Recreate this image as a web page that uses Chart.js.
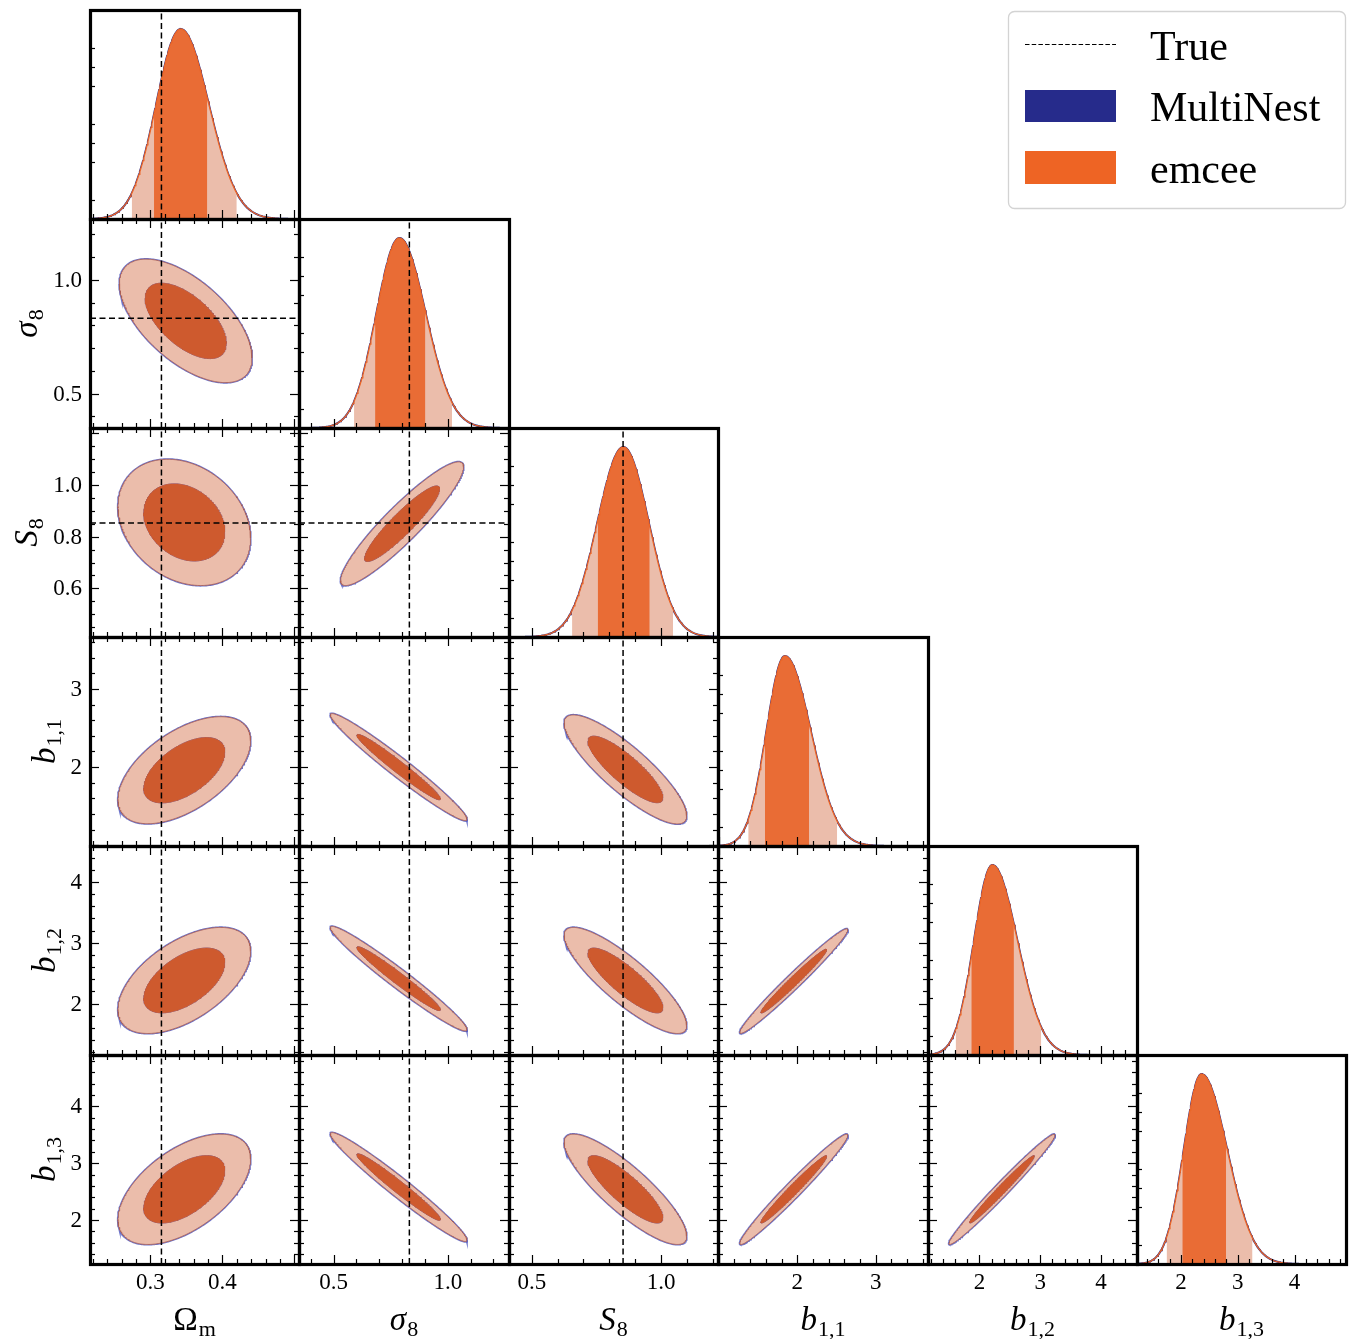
<!DOCTYPE html>
<html>
<head>
<meta charset="utf-8">
<title>Posterior comparison: MultiNest vs emcee</title>
<script src="https://cdn.jsdelivr.net/npm/chart.js@4.4.1/dist/chart.umd.min.js"></script>
<style>
  html, body { margin: 0; padding: 0; background: #fff; }
  #page { position: relative; width: 1351px; height: 1339px; overflow: hidden; background: #fff; }
  #page canvas { position: absolute; }
</style>
</head>
<body>
<div id="page"></div>
<script>
// ---------------- parameters ----------------
const titleSymbol   = ['Ω', 'σ', 'S', 'b', 'b', 'b'];
const titleItalic   = [false, true, true, true, true, true];
const titleSubscript = ['m', '8', '8', '1,1', '1,2', '1,3'];
const axisMin = [0.216, 0.349, 0.412, 0.990, 1.155, 1.225];
const axisMax = [0.5065, 1.268, 1.220, 3.665, 4.590, 4.905];
const trueValues = [0.3153, 0.832, 0.853, null, null, null];

// tick labels and tick spacing per parameter
const tickLabelsX = [['0.3', '0.4'], ['0.5', '1.0'], ['0.5', '1.0'], ['2', '3'], ['2', '3', '4'], ['2', '3', '4']];
const tickLabelsY = [[], ['0.5', '1.0'], ['0.6', '0.8', '1.0'], ['2', '3'], ['2', '3', '4'], ['2', '3', '4']];
const majorStepX = [0.1, 0.5, 0.5, 1, 1, 1];
const minorStepX = [0.02, 0.1, 0.1, 0.2, 0.2, 0.2];
const majorStepY = [0.1, 0.5, 0.2, 1, 1, 1];
const minorStepY = [0.02, 0.1, 0.05, 0.2, 0.2, 0.2];
const densityTicks = [0.1, 0.3, 0.4, 0.5, 0.7, 0.8, 0.9];

// 1D marginals: peak, widths either side, credible interval bounds
const peak       = [0.342, 0.788, 0.854, 1.842, 2.212, 2.360];
const widthLeft  = [0.034, 0.100, 0.100, 0.235, 0.300, 0.310];
const widthRight = [0.039, 0.115, 0.098, 0.330, 0.410, 0.450];
const lower95 = [0.274, 0.590, 0.656, 1.375, 1.609, 1.746];
const lower68 = [0.305, 0.682, 0.755, 1.588, 1.867, 2.023];
const upper68 = [0.379, 0.902, 0.956, 2.151, 2.567, 2.793];
const upper95 = [0.420, 1.019, 1.046, 2.508, 3.016, 3.259];

// 2D marginals, one entry per lower-triangle panel (row = y parameter, col = x parameter)
const pairRow = [1, 2, 2, 3, 3, 3, 4, 4, 4, 4, 5, 5, 5, 5, 5];
const pairCol = [0, 0, 1, 0, 1, 2, 0, 1, 2, 3, 0, 1, 2, 3, 4];
const pairCenterX = [0.349, 0.347, 0.800, 0.347, 0.785, 0.862, 0.347, 0.785, 0.862, 1.955, 0.347, 0.785, 0.862, 1.955, 2.370];
const pairCenterY = [0.820, 0.855, 0.850, 1.960, 2.000, 1.970, 2.380, 2.410, 2.380, 2.370, 2.540, 2.580, 2.540, 2.540, 2.540];
const pairSigmaX  = [0.037, 0.037, 0.108, 0.037, 0.120, 0.095, 0.037, 0.120, 0.095, 0.276, 0.037, 0.120, 0.095, 0.276, 0.350];
const pairSigmaY  = [0.109, 0.098, 0.096, 0.275, 0.275, 0.280, 0.350, 0.345, 0.350, 0.345, 0.390, 0.385, 0.390, 0.390, 0.390];
const pairRho     = [-0.60, -0.25, 0.92, 0.55, -0.975, -0.85, 0.55, -0.975, -0.85, 0.982, 0.55, -0.975, -0.85, 0.98, 0.985];

// contour radii (in standard deviations) for the 68% and 95% regions
const R68 = 1.52, R95 = 2.49;

// ---------------- layout & style ----------------
const X_EDGES = [90, 299, 509, 718, 928, 1137, 1346];
const Y_EDGES = [10, 219, 428, 637, 846, 1055, 1264];
const PAGE_W = 1351, PAGE_H = 1339, PAD = 6;
const SERIF = '"Liberation Serif", "Times New Roman", serif';
const TICK_FONT = '23px ' + SERIF;
const TITLE_SIZE = 33;

const COLORS = {
  emceeLine: '#EC6526',
  emcee68: '#E96C35',
  emcee95: '#EBBDAB',
  emceeInner: '#CE5A2E',
  emceeEdge: 'rgba(170, 95, 85, 0.85)',
  multinest: '#262B8B',
  multinestEdge: 'rgba(70, 80, 190, 0.8)',
  truth: '#000000'
};

// ---------------- helpers ----------------
function density1D(i, x) {
  const s = x < peak[i] ? widthLeft[i] : widthRight[i];
  const z = (x - peak[i]) / s;
  return Math.exp(-0.5 * z * z);
}
function curvePoints(i, lo, hi, n) {
  const pts = [];
  for (let k = 0; k <= n; k++) {
    const x = lo + (hi - lo) * k / n;
    pts.push({ x, y: density1D(i, x) });
  }
  return pts;
}
// one half of a confidence ellipse, ordered by increasing x
function contourHalf(p, radius, upper) {
  const pts = [];
  const n = 140;
  const cx = pairCenterX[p], cy = pairCenterY[p];
  const sx = pairSigmaX[p], sy = pairSigmaY[p], rho = pairRho[p];
  const q = Math.sqrt(1 - rho * rho);
  for (let k = 0; k <= n; k++) {
    const th = upper ? Math.PI * (1 - k / n) : Math.PI * (1 + k / n);
    const c = Math.cos(th), s = Math.sin(th);
    pts.push({ x: cx + sx * radius * c, y: cy + sy * radius * (rho * c + q * s) });
  }
  return pts;
}
function tickList(min, max, minor, major) {
  const out = [];
  const start = Math.ceil(min / minor - 1e-9);
  for (let k = start; k * minor <= max + 1e-9; k++) {
    const v = k * minor;
    const r = v / major;
    out.push({ v, major: Math.abs(r - Math.round(r)) < 1e-6 });
  }
  return out;
}
function lineDataset(data, color, width, order, extra) {
  return Object.assign({
    data, borderColor: color, borderWidth: width, pointRadius: 0,
    fill: false, order, tension: 0
  }, extra || {});
}
function truthVertical(v, yMin, yMax) {
  return lineDataset([{ x: v, y: yMin }, { x: v, y: yMax }], COLORS.truth, 1.5, 0, { borderDash: [6, 3.5] });
}
function truthHorizontal(v, xMin, xMax) {
  return lineDataset([{ x: xMin, y: v }, { x: xMax, y: v }], COLORS.truth, 1.5, 0, { borderDash: [6, 3.5] });
}

// axis title with a subscript, centred on (0,0) of the current transform
function drawTitle(ctx, idx, size) {
  const mainFont = (titleItalic[idx] ? 'italic ' : '') + size + 'px ' + SERIF;
  const subFont = Math.round(size * 0.68) + 'px ' + SERIF;
  ctx.font = mainFont;
  const wMain = ctx.measureText(titleSymbol[idx]).width;
  ctx.font = subFont;
  const wSub = ctx.measureText(titleSubscript[idx]).width;
  const x0 = -(wMain + wSub + 1) / 2;
  ctx.textAlign = 'left';
  ctx.textBaseline = 'alphabetic';
  ctx.font = mainFont;
  ctx.fillText(titleSymbol[idx], x0, 0);
  ctx.font = subFont;
  ctx.fillText(titleSubscript[idx], x0 + wMain + 1, 6);
}

// frame, inward ticks, tick labels and axis titles of one panel
const panelDecor = {
  id: 'panelDecor',
  afterDraw(chart, args, opts) {
    const { row, col } = opts;
    const diag = row === col;
    const ctx = chart.ctx;
    const a = chart.chartArea;
    const xs = chart.scales.x, ys = chart.scales.y;
    ctx.save();
    ctx.strokeStyle = '#000';
    ctx.fillStyle = '#000';
    ctx.lineWidth = 1.2;
    const seg = (x1, y1, x2, y2) => { ctx.beginPath(); ctx.moveTo(x1, y1); ctx.lineTo(x2, y2); ctx.stroke(); };

    for (const t of tickList(axisMin[col], axisMax[col], minorStepX[col], majorStepX[col])) {
      const px = Math.round(xs.getPixelForValue(t.v)) + 0.5;
      const len = t.major ? 9 : 5;
      seg(px, a.bottom, px, a.bottom - len);
      if (!diag) seg(px, a.top, px, a.top + len);
    }
    if (diag) {
      for (const v of densityTicks) {
        const py = Math.round(ys.getPixelForValue(v)) + 0.5;
        seg(a.left, py, a.left + 5, py);
      }
    } else {
      for (const t of tickList(axisMin[row], axisMax[row], minorStepY[row], majorStepY[row])) {
        const py = Math.round(ys.getPixelForValue(t.v)) + 0.5;
        const len = t.major ? 9 : 5;
        seg(a.left, py, a.left + len, py);
        seg(a.right, py, a.right - len, py);
      }
    }
    ctx.lineWidth = 3.2;
    ctx.strokeRect(a.left + 0.5, a.top + 0.5, a.right - a.left, a.bottom - a.top);

    ctx.font = TICK_FONT;
    if (row === 5) {
      ctx.textAlign = 'center';
      ctx.textBaseline = 'alphabetic';
      for (const lab of tickLabelsX[col]) {
        ctx.fillText(lab, xs.getPixelForValue(parseFloat(lab)), a.bottom + 25);
      }
      ctx.save();
      ctx.translate((a.left + a.right) / 2, a.bottom + 66);
      drawTitle(ctx, col, TITLE_SIZE);
      ctx.restore();
    }
    if (col === 0 && row > 0) {
      ctx.font = TICK_FONT;
      ctx.textAlign = 'right';
      ctx.textBaseline = 'middle';
      let widest = 0;
      for (const lab of tickLabelsY[row]) {
        widest = Math.max(widest, ctx.measureText(lab).width);
        ctx.fillText(lab, a.left - 8, ys.getPixelForValue(parseFloat(lab)) + 1);
      }
      // the title sits just outside the widest tick label
      ctx.save();
      ctx.translate(a.left - 8 - widest - 16, (a.top + a.bottom) / 2);
      ctx.rotate(-Math.PI / 2);
      drawTitle(ctx, row, TITLE_SIZE);
      ctx.restore();
    }
    ctx.restore();
  }
};

// ---------------- panels ----------------
const page = document.getElementById('page');

function makePanel(row, col, datasets, yMin, yMax) {
  const left = col === 0 ? 0 : X_EDGES[col] - PAD;
  const top = Y_EDGES[row] - PAD;
  const right = row === 5 ? Math.min(PAGE_W, X_EDGES[col + 1] + PAD) : X_EDGES[col + 1] + PAD;
  const bottom = row === 5 ? PAGE_H : Y_EDGES[row + 1] + PAD;
  const cv = document.createElement('canvas');
  cv.width = right - left;
  cv.height = bottom - top;
  cv.style.left = left + 'px';
  cv.style.top = top + 'px';
  cv.style.width = (right - left) + 'px';
  cv.style.height = (bottom - top) + 'px';
  page.appendChild(cv);
  new Chart(cv, {
    type: 'line',
    data: { datasets },
    options: {
      responsive: false,
      animation: false,
      devicePixelRatio: 1,
      events: [],
      layout: {
        padding: {
          left: X_EDGES[col] - left,
          top: Y_EDGES[row] - top,
          right: right - X_EDGES[col + 1],
          bottom: bottom - Y_EDGES[row + 1]
        }
      },
      scales: {
        x: { type: 'linear', min: axisMin[col], max: axisMax[col], display: false },
        y: { type: 'linear', min: yMin, max: yMax, display: false }
      },
      plugins: {
        legend: { display: false },
        tooltip: { enabled: false },
        panelDecor: { row, col }
      }
    },
    plugins: [panelDecor]
  });
}

// diagonal: 1D marginal posteriors
for (let i = 0; i < 6; i++) {
  const full = curvePoints(i, axisMin[i], axisMax[i], 260);
  const datasets = [];
  if (trueValues[i] !== null) datasets.push(truthVertical(trueValues[i], 0, 1.1));
  datasets.push(lineDataset(full, COLORS.emceeLine, 1.3, 1));
  datasets.push(lineDataset(curvePoints(i, lower68[i], upper68[i], 90), 'rgba(0,0,0,0)', 0, 2,
    { fill: 'origin', backgroundColor: COLORS.emcee68 }));
  datasets.push(lineDataset(curvePoints(i, lower95[i], upper95[i], 140), 'rgba(0,0,0,0)', 0, 3,
    { fill: 'origin', backgroundColor: COLORS.emcee95 }));
  datasets.push(lineDataset(full, COLORS.multinest, 2.0, 4));
  makePanel(i, i, datasets, 0, 1.1);
}

// lower triangle: 2D marginal posteriors
for (let p = 0; p < pairRow.length; p++) {
  const row = pairRow[p], col = pairCol[p];
  const datasets = [];
  if (trueValues[col] !== null) datasets.push(truthVertical(trueValues[col], axisMin[row], axisMax[row]));
  if (trueValues[row] !== null) datasets.push(truthHorizontal(trueValues[row], axisMin[col], axisMax[col]));
  // emcee 68% region
  datasets.push(lineDataset(contourHalf(p, R68, true), COLORS.emceeInner, 0.8, 1));
  datasets.push(lineDataset(contourHalf(p, R68, false), COLORS.emceeInner, 0.8, 1,
    { fill: '-1', backgroundColor: COLORS.emceeInner }));
  // MultiNest 68% outline
  datasets.push(lineDataset(contourHalf(p, R68, true), COLORS.multinestEdge, 1.0, 2));
  datasets.push(lineDataset(contourHalf(p, R68, false), COLORS.multinestEdge, 1.0, 2));
  // emcee 95% region
  datasets.push(lineDataset(contourHalf(p, R95, true), COLORS.emceeEdge, 1.0, 3));
  datasets.push(lineDataset(contourHalf(p, R95, false), COLORS.emceeEdge, 1.0, 3,
    { fill: '-1', backgroundColor: COLORS.emcee95 }));
  // MultiNest 95% outline
  datasets.push(lineDataset(contourHalf(p, R95, true), COLORS.multinestEdge, 2.2, 4));
  datasets.push(lineDataset(contourHalf(p, R95, false), COLORS.multinestEdge, 2.2, 4));
  makePanel(row, col, datasets, axisMin[row], axisMax[row]);
}

// ---------------- legend ----------------
(function drawLegend() {
  const cv = document.createElement('canvas');
  const L = 1000, T = 4, W = 351, H = 212;
  cv.width = W; cv.height = H;
  cv.style.left = L + 'px'; cv.style.top = T + 'px';
  cv.style.width = W + 'px'; cv.style.height = H + 'px';
  page.appendChild(cv);
  const ctx = cv.getContext('2d');
  const bx = 1008.5 - L, by = 11.5 - T, bw = 337, bh = 197, r = 6;
  ctx.beginPath();
  ctx.moveTo(bx + r, by);
  ctx.arcTo(bx + bw, by, bx + bw, by + bh, r);
  ctx.arcTo(bx + bw, by + bh, bx, by + bh, r);
  ctx.arcTo(bx, by + bh, bx, by, r);
  ctx.arcTo(bx, by, bx + bw, by, r);
  ctx.closePath();
  ctx.fillStyle = 'rgba(255,255,255,0.9)';
  ctx.fill();
  ctx.strokeStyle = '#d3d3d3';
  ctx.lineWidth = 1.3;
  ctx.stroke();

  ctx.strokeStyle = COLORS.truth;
  ctx.lineWidth = 1.2;
  ctx.setLineDash([4.5, 2.2]);
  ctx.beginPath();
  ctx.moveTo(1025 - L, 44.5 - T);
  ctx.lineTo(1116 - L, 44.5 - T);
  ctx.stroke();
  ctx.setLineDash([]);

  ctx.fillStyle = COLORS.multinest;
  ctx.fillRect(1025 - L, 90 - T, 91, 32);
  ctx.fillStyle = '#EE6424';
  ctx.fillRect(1025 - L, 151 - T, 91, 33);

  ctx.fillStyle = '#000';
  ctx.font = '42px ' + SERIF;
  ctx.textAlign = 'left';
  ctx.textBaseline = 'alphabetic';
  ctx.fillText('True', 1150 - L, 60 - T);
  ctx.fillText('MultiNest', 1150 - L, 121 - T);
  ctx.fillText('emcee', 1150 - L, 183 - T);
})();
</script>
</body>
</html>
